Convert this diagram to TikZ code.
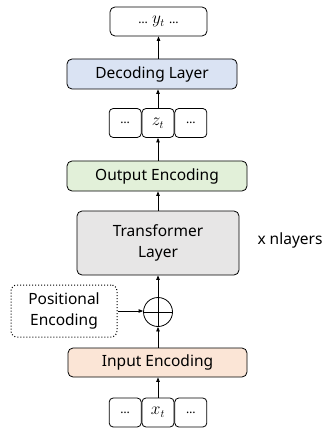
\documentclass[tikz,border=0pt]{standalone}
\usepackage{fontspec}
\setmainfont{Noto Sans}
\usetikzlibrary{arrows.meta}

\definecolor{decblue}{HTML}{DAE3F3}
\definecolor{outgreen}{HTML}{E2F0D9}
\definecolor{transgray}{HTML}{E7E6E6}
\definecolor{inpeach}{HTML}{FBE5D6}

\newcommand{\dotsm}{{\fontsize{12}{14}\selectfont\ldots}}

\begin{document}
\begin{tikzpicture}[
  x=1pt, y=-1pt,
  line width=0.8pt,
  layer/.style={draw, rounded corners=5pt, inner sep=0pt, font=\fontsize{15.5}{18}\selectfont},
  cell/.style={draw, rounded corners=4pt, inner sep=0pt, minimum width=32pt, minimum height=29pt, font=\fontsize{16}{18}\selectfont},
  flow/.style={-{Triangle[length=4.5pt,width=3.5pt]}}
]
\useasboundingbox (0,0) rectangle (330,430);
% output sequence
\node[layer, minimum width=97pt, minimum height=29pt, font=\fontsize{16}{18}\selectfont] (out) at (158.5,21.5) {\dotsm\ $y_t$ \dotsm};
\node[layer, fill=decblue, minimum width=170pt, minimum height=30pt] (dec) at (152,74) {Decoding Layer};
% latent cells
\node[cell] (z) at (158,123) {$z_t$};
\node[cell, anchor=east] (zl) at (z.west) {\dotsm};
\node[cell, anchor=west] (zr) at (z.east) {\dotsm};
\node[layer, fill=outgreen, minimum width=180pt, minimum height=30pt] (outenc) at (157,176) {Output Encoding};
\node[layer, fill=transgray, minimum width=162pt, minimum height=64pt, align=center, font=\fontsize{15.5}{21}\selectfont] (trans) at (158,243) {Transformer\\Layer};
\node[font=\fontsize{15.5}{18}\selectfont] (nl) at (290,240) {x nlayers};
% positional encoding
\node[circle, draw, minimum size=29pt, inner sep=0pt] (plus) at (158,312) {};
\draw (plus.north) -- (plus.south) (plus.west) -- (plus.east);
\node[draw, dotted, line width=1pt, rounded corners=6pt, minimum width=106pt, minimum height=52pt, align=center, font=\fontsize{15.5}{21}\selectfont] (pos) at (64,311) {Positional\\Encoding};
\node[layer, fill=inpeach, minimum width=179pt, minimum height=29pt] (inenc) at (157.5,362.5) {Input Encoding};
% input cells
\node[cell] (x) at (158,412.5) {$x_t$};
\node[cell, anchor=east] (xl) at (x.west) {\dotsm};
\node[cell, anchor=west] (xr) at (x.east) {\dotsm};
% connectors
\draw[flow] (x.north) -- (x.north |- inenc.south);
\draw[flow] (inenc.north -| plus) -- (plus.south);
\draw[flow] (pos.east) -- (pos.east -| plus.west);
\draw[flow] (plus.north) -- (plus.north |- trans.south);
\draw[flow] (trans.north) -- (trans.north |- outenc.south);
\draw[flow] (outenc.north -| z) -- (z.south);
\draw[flow] (z.north) -- (z.north |- dec.south);
\draw[flow] (dec.north -| out) -- (out.south);
\end{tikzpicture}
\end{document}
